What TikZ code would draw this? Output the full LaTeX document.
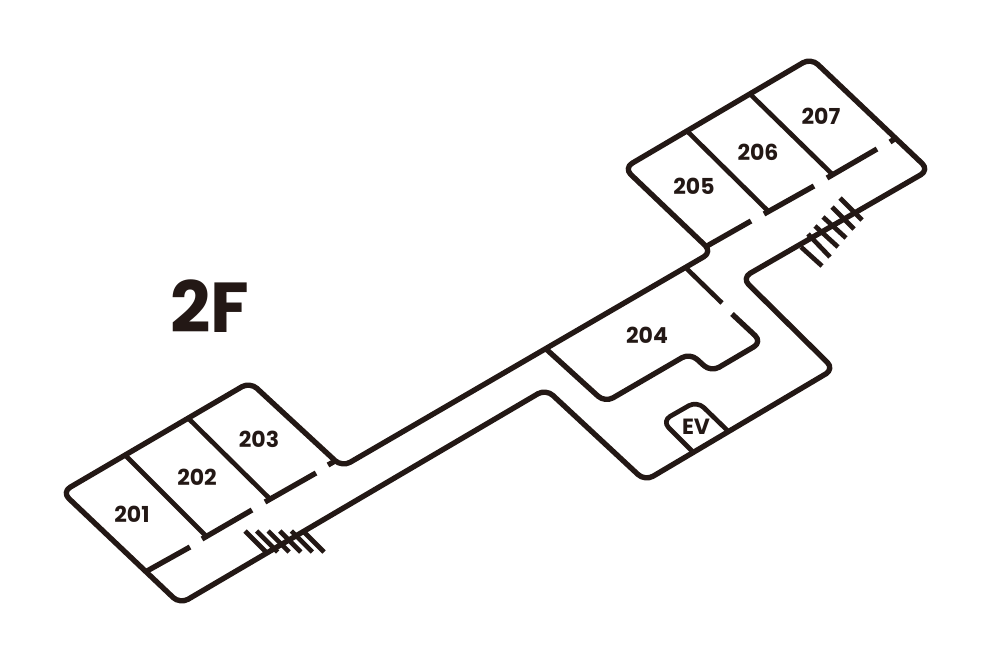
\documentclass[tikz,border=0pt]{standalone}
\usepackage{fontspec}
\setmainfont{Poppins}
\usetikzlibrary{arrows}
\definecolor{wallcolor}{HTML}{231815}

\begin{document}
\begin{tikzpicture}[x=0.75pt,y=-0.75pt]
\tikzset{wall/.style={draw=wallcolor,line width=4pt,line join=round},
         thinwall/.style={draw=wallcolor,line width=3.5pt,line join=round},
         room/.style={text=wallcolor,font=\bfseries\fontsize{16.5}{16.5}\selectfont,inner sep=0pt}}
\useasboundingbox (0,0) rectangle (1000,667);

% outer walls
\draw[wall,rounded corners=7pt] (62,492) -- (250,382) -- (342,467) -- (712,252) -- (624,168) -- (811,58) -- (929,170) -- (742,278) -- (834,369) -- (645,481) -- (546,389) -- (180,604) -- cycle;

% rooms 201 to 203
\draw[thinwall] (125,455) -- (206,536);
\draw[thinwall] (188,418) -- (270,499);
\draw[wall] (147,571) -- (190,547);
\draw[wall] (202,539) -- (252,510);
\draw[wall] (265,502) -- (316,473);
\draw[wall] (328,465) -- (335,461);

% rooms 205 to 207
\draw[thinwall] (686,130) -- (769,212);
\draw[thinwall] (750,94) -- (833,175);
\draw[wall] (707,246) -- (751,221);
\draw[wall] (764,214) -- (814,186);
\draw[wall] (827,178) -- (877,149);
\draw[wall] (890,142) -- (896,138);

% room 204
\draw[thinwall] (685,267) -- (722,303);
\draw[wall,rounded corners=7pt] (732,314) -- (762,342) -- (711,372) -- (690,353) -- (605,402.5) -- (545,348);

% elevator
\draw[thinwall,rounded corners=7pt] (693,452) -- (662,421) -- (697,401) -- (729,432);

% stairs
\foreach \k in {0,...,5}
  \draw[thinwall] (245+11.6*\k,531) -- (266+11.6*\k,552);
\foreach \xa/\ya/\xb/\yb in {840/198/862/220,832/207/854/229,823/217/846/238,815/226/838/247,808/234/830/257,801/247/822/266}
  \draw[thinwall] (\xa,\ya) -- (\xb,\yb);

\node[room] (r201) at (132,514) {201};
\node[room] (r202) at (197,477) {202};
\node[room] (r203) at (259,439) {203};
\node[room] (r204) at (647,335) {204};
\node[room] (r205) at (694,186) {205};
\node[room] (r206) at (758,152) {206};
\node[room] (r207) at (821,116) {207};
\node[room] (ev) at (696,427) {EV};
\node[room,font=\bfseries\fontsize{53}{53}\selectfont] (floor) at (210,306) {2F};

\end{tikzpicture}
\end{document}
